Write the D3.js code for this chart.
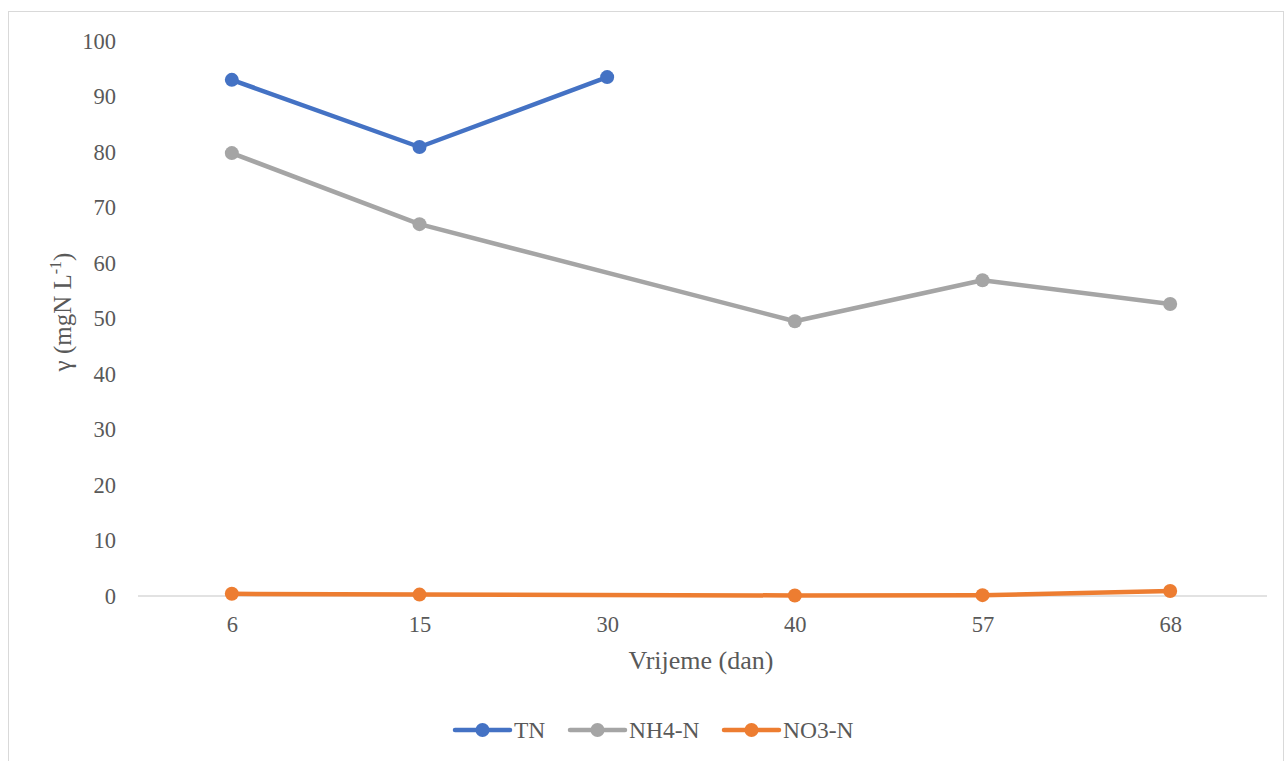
<!DOCTYPE html>
<html><head><meta charset="utf-8">
<script src="https://cdn.jsdelivr.net/npm/d3@7"></script>
<style>body{margin:0;background:#fff}svg{display:block}
svg text{font-family:"Liberation Serif","Times New Roman",Tinos,serif;}
</style>
</head><body>
<svg id="c" width="1284" height="761"></svg>
<script>
const categories = ["6","15","30","40","57","68"];
const tn   = [93, 80.9, 93.5, null, null, null];
const nh4  = [79.8, 67.0, null, 49.5, 56.9, 52.6];
const no3  = [0.4, 0.25, null, 0.1, 0.15, 0.9];
const yTicks = [0,10,20,30,40,50,60,70,80,90,100];
const seriesNames = ["TN","NH4-N","NO3-N"];
const seriesColors = ["#4472C4","#A5A5A5","#ED7D31"];
const seriesData = [tn, nh4, no3];

const svg = d3.select("#c");
svg.append("rect").attr("x",8.5).attr("y",11.5).attr("width",1275).attr("height",760)
  .attr("fill","#fff").attr("stroke","#d9d9d9");

const x = d3.scalePoint().domain(categories).range([138,1264]).padding(0.5);
const y = d3.scaleLinear().domain([0,100]).range([596,41]);

// y tick labels
const ya = svg.append("g").attr("transform","translate(116,0)")
  .call(d3.axisLeft(y).tickValues(yTicks).tickSize(0).tickPadding(0));
ya.attr("font-family",null).attr("font-size",null);
ya.select(".domain").remove();
ya.selectAll("text").attr("font-size",22.5).attr("fill","#595959");

// x axis
const xa = svg.append("g").attr("transform","translate(0,596)")
  .call(d3.axisBottom(x).tickSize(0).tickPadding(20));
xa.attr("font-family",null).attr("font-size",null);
xa.select(".domain").attr("stroke","#d9d9d9").attr("stroke-width",1.3).attr("d","M138,0H1267");
xa.selectAll("text").attr("font-size",22.5).attr("fill","#595959");

// series
seriesData.forEach((vals,i)=>{
  const pts = categories.map((c,j)=>({c,v:vals[j]})).filter(d=>d.v!=null);
  const line = d3.line().x(d=>x(d.c)).y(d=>y(d.v));
  svg.append("path").datum(pts).attr("d",line).attr("fill","none")
    .attr("stroke",seriesColors[i]).attr("stroke-width",4.5).attr("stroke-linejoin","round").attr("stroke-linecap","round");
  svg.append("g").selectAll("circle").data(pts).join("circle")
    .attr("cx",d=>x(d.c)).attr("cy",d=>y(d.v)).attr("r",7).attr("fill",seriesColors[i]);
});

// axis titles
svg.append("text").attr("x",701).attr("y",669).attr("text-anchor","middle")
  .attr("font-size",26).attr("fill","#595959").text("Vrijeme (dan)");
const yt = svg.append("text").attr("transform","translate(71,312) rotate(-90)").attr("text-anchor","middle")
  .attr("font-size",25).attr("fill","#595959");
yt.append("tspan").text("γ (mgN L");
yt.append("tspan").attr("dy",-10).attr("font-size",16).text("-1");
yt.append("tspan").attr("dy",10).text(")");

// legend
const legX = [455, 570, 724];
seriesNames.forEach((n,i)=>{
  const g = svg.append("g").attr("transform",`translate(${legX[i]},730)`);
  g.append("line").attr("x1",0).attr("x2",55).attr("stroke",seriesColors[i]).attr("stroke-width",4.5).attr("stroke-linecap","round");
  g.append("circle").attr("cx",27.5).attr("r",7).attr("fill",seriesColors[i]);
  g.append("text").attr("x",59).attr("y",7.5).attr("font-size",23.5).attr("fill","#595959").text(n);
});
</script>
</body></html>
